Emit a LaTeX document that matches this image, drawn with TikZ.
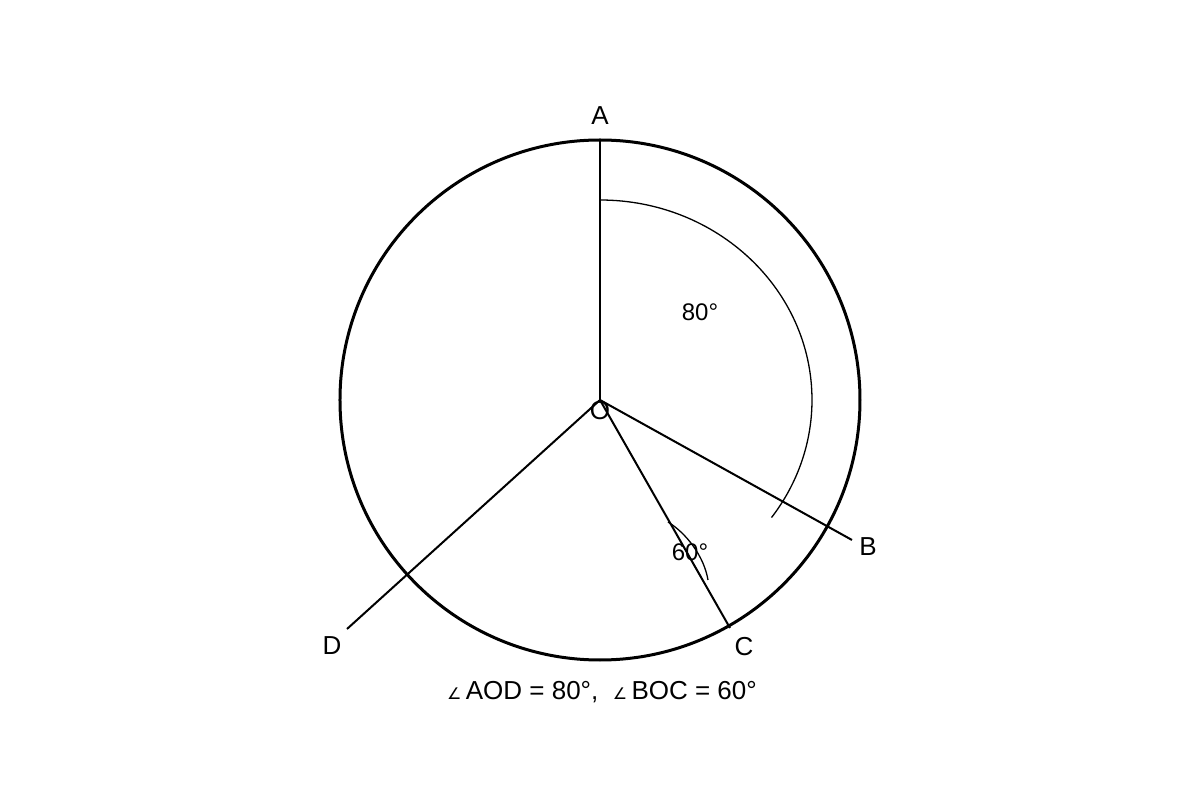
\documentclass[tikz,border=0pt]{standalone}
\usepackage{fontspec}
\setmainfont{Liberation Sans}
\newfontfamily\anglefont{DejaVu Sans}
\usetikzlibrary{positioning, calc}

\begin{document}
\begin{tikzpicture}[x=1pt, y=1pt,
    ptLabel/.style={font=\fontsize{26}{26}\selectfont, inner sep=0pt},
    degLabel/.style={font=\fontsize{24}{24}\selectfont, inner sep=0pt},
    spoke/.style={line width=2pt},
    markArc/.style={line width=1.3pt}]
  \useasboundingbox (-600,-400) rectangle (600,400);

  \coordinate (O) at (0,0);
  \coordinate (A) at (0,260);
  \coordinate (Bend) at (252,-140);
  \coordinate (Cend) at (130,-228);
  \coordinate (Dend) at (-253,-229);

  \draw[line width=3pt] (O) circle[radius=260];
  \draw[spoke] (O) -- (A);
  \draw[spoke] (O) -- (Bend);
  \draw[spoke] (O) -- (Cend);
  \draw[spoke] (O) -- (Dend);

  \draw[markArc] (0,200) arc[start angle=90, end angle=-36, x radius=212, y radius=200];
  \draw[markArc] (68,-122) .. controls (86,-133) and (104,-156) .. (108,-180);

  \node[ptLabel] (AName) at (0,284) {A};
  \node[ptLabel] (BName) at (268,-147) {B};
  \node[ptLabel] (CName) at (144,-247) {C};
  \node[ptLabel] (DName) at (-268,-246) {D};
  \node[ptLabel] (OName) at (0,-11) {O};

  \node[degLabel] (AODText) at (100,88) {80°};
  \node[degLabel] (BOCText) at (90,-152) {60°};

  \node[ptLabel] (Caption) at (2,-292)
    {{\anglefont\fontsize{16}{16}\selectfont ∠}\,AOD = 80°,\; {\anglefont\fontsize{16}{16}\selectfont ∠}\,BOC = 60°};
\end{tikzpicture}
\end{document}
